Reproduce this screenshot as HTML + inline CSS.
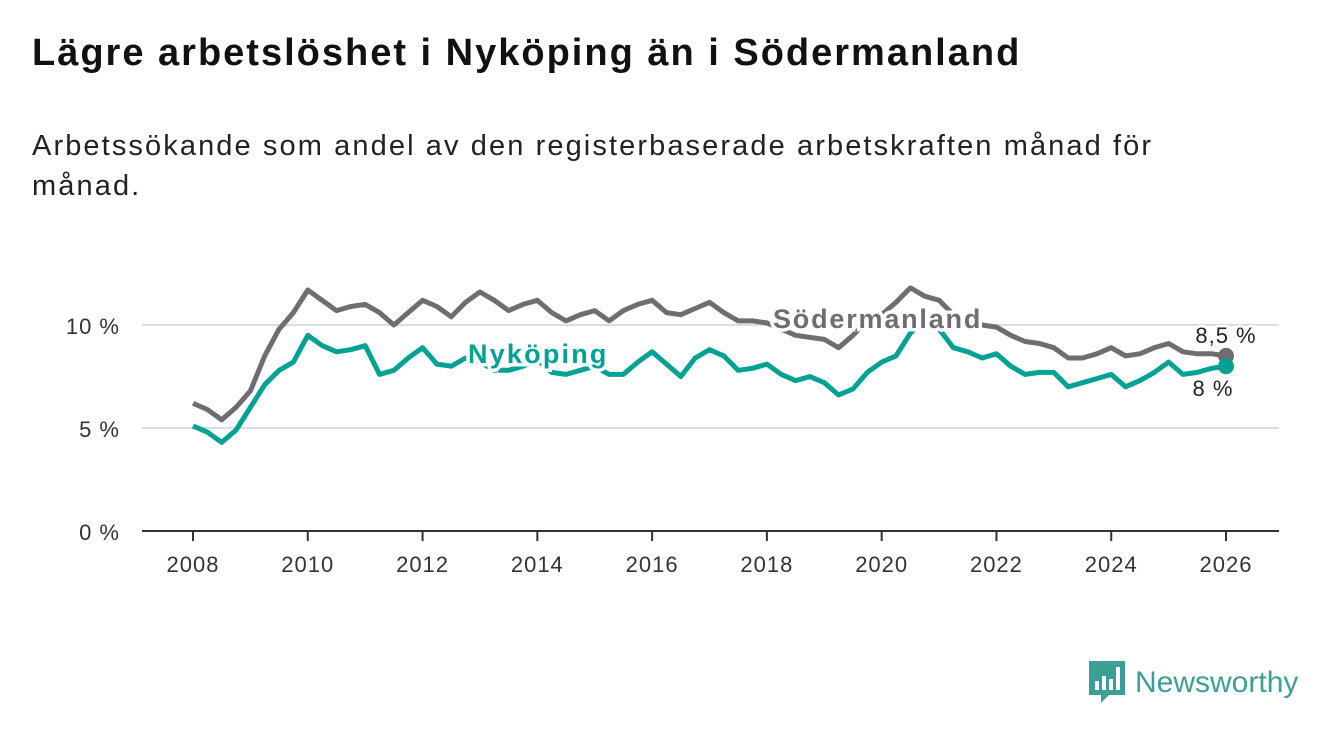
<!DOCTYPE html>
<html><head><meta charset="utf-8"><style>
body{margin:0;width:1340px;height:734px;background:#fff;font-family:"Liberation Sans","DejaVu Sans",sans-serif;overflow:hidden;position:relative}
h1{position:absolute;left:32px;top:32px;margin:0;font-size:38px;font-weight:bold;color:#111;letter-spacing:2px;white-space:nowrap}
p{position:absolute;left:32px;top:126px;margin:0;font-size:29px;line-height:40px;color:#222;width:1200px;letter-spacing:2.1px}
svg{position:absolute;left:0;top:0}
</style></head><body>
<h1>Lägre arbetslöshet i Nyköping än i Södermanland</h1>
<p>Arbetssökande som andel av den registerbaserade arbetskraften månad för månad.</p>
<svg id="c" width="1340" height="734"></svg>
<script>
const years=[2008,2010,2012,2014,2016,2018,2020,2022,2024,2026];
const yTicks=[0,5,10];
const yTickLabels=["0 %","5 %","10 %"];
const startYear=2008, step=0.25;
const sodermanland=[6.2,5.9,5.4,6.0,6.8,8.5,9.8,10.6,11.7,11.2,10.7,10.9,11.0,10.6,10.0,10.6,11.2,10.9,10.4,11.1,11.6,11.2,10.7,11.0,11.2,10.6,10.2,10.5,10.7,10.2,10.7,11.0,11.2,10.6,10.5,10.8,11.1,10.6,10.2,10.2,10.1,9.8,9.5,9.4,9.3,8.9,9.5,10.2,10.5,11.1,11.8,11.4,11.2,10.5,10.2,10.0,9.9,9.5,9.2,9.1,8.9,8.4,8.4,8.6,8.9,8.5,8.6,8.9,9.1,8.7,8.6,8.6,8.5];
const nykoping=[5.1,4.8,4.3,4.9,6.0,7.1,7.8,8.2,9.5,9.0,8.7,8.8,9.0,7.6,7.8,8.4,8.9,8.1,8.0,8.4,8.2,7.8,7.8,8.0,8.3,7.7,7.6,7.8,8.0,7.6,7.6,8.2,8.7,8.1,7.5,8.4,8.8,8.5,7.8,7.9,8.1,7.6,7.3,7.5,7.2,6.6,6.9,7.7,8.2,8.5,9.6,10.3,9.8,8.9,8.7,8.4,8.6,8.0,7.6,7.7,7.7,7.0,7.2,7.4,7.6,7.0,7.3,7.7,8.2,7.6,7.7,7.9,8.0];
const NS="http://www.w3.org/2000/svg";
const svg=document.getElementById('c');
const X=y=>193+(y-2008)*(1226-193)/18;
const Y=v=>531-v*20.6;
function el(t,a,txt){const e=document.createElementNS(NS,t);for(const k in a)e.setAttribute(k,a[k]);if(txt!==undefined)e.textContent=txt;svg.appendChild(e);return e;}
yTicks.forEach((t,i)=>{
 if(t>0){const g=el('line',{x1:142,x2:1279,y1:Y(t),y2:Y(t),stroke:'#dcdcdc','stroke-width':2});
 
 }
 const l=el('text',{x:120,y:Y(t)+9,'text-anchor':'end','font-size':22,fill:'#333','letter-spacing':1},yTickLabels[i]);
 
 
});
const ax=el('line',{x1:142,x2:1279,y1:531,y2:531,stroke:'#333','stroke-width':2});


years.forEach(y=>{
 const tk=el('line',{x1:X(y),x2:X(y),y1:531,y2:541,stroke:'#333','stroke-width':2});
 
 
 const l=el('text',{x:X(y),y:572,'text-anchor':'middle','font-size':22,fill:'#333','letter-spacing':1},String(y));
 
 
});
function path(vals){return vals.map((v,i)=>(i?'L':'M')+X(startYear+i*step).toFixed(1)+','+Y(v).toFixed(1)).join('');}
const p1=el('path',{d:path(sodermanland),fill:'none',stroke:'#6e6d72','stroke-width':5,'stroke-linejoin':'round'});


const p2=el('path',{d:path(nykoping),fill:'none',stroke:'#00a294','stroke-width':5,'stroke-linejoin':'round'});


const lastS=sodermanland[sodermanland.length-1], lastN=nykoping[nykoping.length-1], lastX=X(startYear+(sodermanland.length-1)*step);
const d1=el('circle',{cx:lastX,cy:Y(lastS),r:8,fill:'#6e6d72'});


const d2=el('circle',{cx:lastX,cy:Y(lastN),r:8,fill:'#00a294'});


const v1=el('text',{x:lastX,y:Y(lastS)-13,'text-anchor':'middle','font-size':22,fill:'#222',stroke:'#fff','stroke-width':5,'paint-order':'stroke','letter-spacing':1},'8,5 %');


const v2=el('text',{x:lastX-13,y:Y(lastN)+30,'text-anchor':'middle','font-size':22,fill:'#222',stroke:'#fff','stroke-width':5,'paint-order':'stroke','letter-spacing':1},'8 %');


const s1=el('text',{x:773,y:328,'font-size':27,'font-weight':'bold',fill:'#6e6d72',stroke:'#fff','stroke-width':7,'paint-order':'stroke','letter-spacing':1.8},'Södermanland');


const s2=el('text',{x:468,y:363,'font-size':27,'font-weight':'bold',fill:'#00a294',stroke:'#fff','stroke-width':7,'paint-order':'stroke','letter-spacing':2.2},'Nyköping');


</script>
<div style="position:absolute;left:1089px;top:661px;height:44px;display:flex;align-items:center">
<svg width="38" height="44" viewBox="0 0 38 44" style="position:static"><path d="M0 0H36V34H20L12 42V34H0Z" fill="#3a9f96"/><rect x="6" y="20" width="4" height="9" fill="#fff"/><rect x="13" y="15" width="4" height="14" fill="#fff"/><rect x="20" y="18" width="4" height="11" fill="#fff"/><rect x="27" y="6" width="4" height="23" fill="#fff"/></svg>
<span style="margin-left:8px;font-size:30px;color:#3a9f96">Newsworthy</span></div>
</body></html>
